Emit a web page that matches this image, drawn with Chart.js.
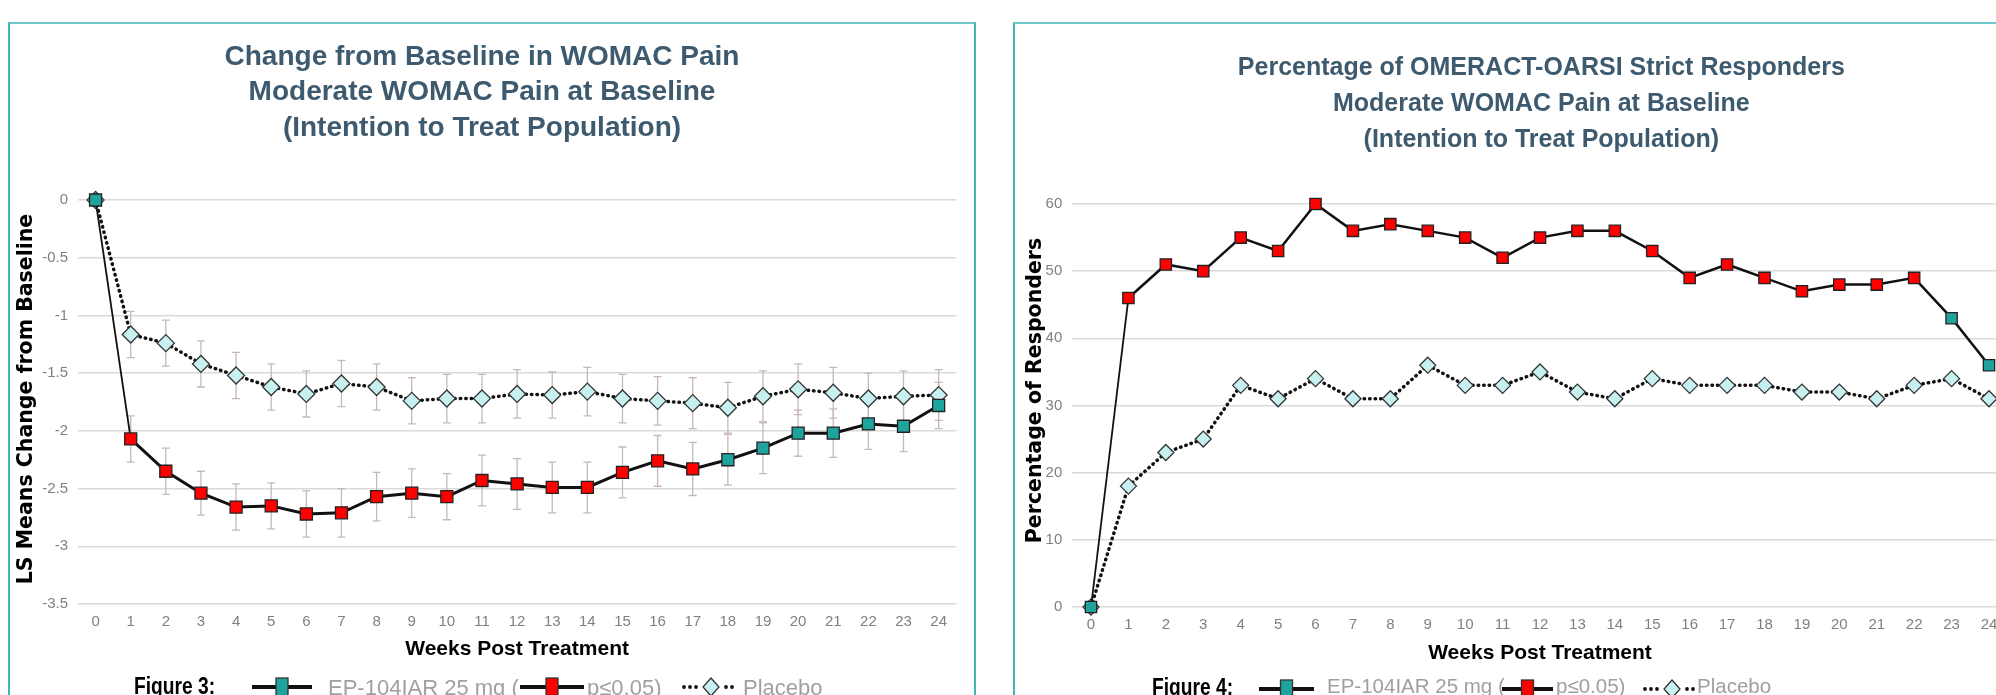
<!DOCTYPE html>
<html>
<head>
<meta charset="utf-8">
<script src="https://cdn.jsdelivr.net/npm/chart.js@4.4.0/dist/chart.umd.min.js"></script>
<style>
html, body { margin: 0; padding: 0; background: #fff; }
#page { position: relative; width: 1996px; height: 695px; overflow: hidden; background: #fff; }
.panel { position: absolute; top: 22px; height: 700px; box-sizing: border-box;
  border-top: 2px solid #6cc7c6; border-left: 2px solid #3fb6b3; }
#panelL { left: 8px; width: 968px; border-right: 2px solid #3fb6b3; }
#panelR { left: 1013px; width: 1000px; }
canvas { position: absolute; top: 24px; }
#chartL { left: 0; }
#chartR { left: 1015px; }
.lg { position: absolute; white-space: nowrap; color: #a0a0a0;
  font-family: 'Liberation Sans', Arial, sans-serif; }
.fig { font-weight: bold; color: #000; font-size: 24px; line-height: 24px;
  transform: scaleX(0.8); transform-origin: 0 0; }
.ic { position: absolute; }
</style>
</head>
<body>
<div id="page">
  <div class="panel" id="panelL"></div>
  <div class="panel" id="panelR"></div>
  <canvas id="chartL" width="966" height="671"></canvas>
  <canvas id="chartR" width="1052" height="671"></canvas>
  <div id="legends"></div>
</div>
<script>
// ---- data ----
var weeks = ['0','1','2','3','4','5','6','7','8','9','10','11','12','13','14','15','16','17','18','19','20','21','22','23','24'];

// Figure 3: change from baseline in WOMAC pain
var painEp = [0, -2.07, -2.35, -2.54, -2.66, -2.65, -2.72, -2.71, -2.57, -2.54, -2.57, -2.43, -2.46,
  -2.49, -2.49, -2.36, -2.26, -2.33, -2.25, -2.15, -2.02, -2.02, -1.94, -1.96, -1.78];
var painEpErr = [0, 0.2, 0.2, 0.19, 0.2, 0.2, 0.2, 0.21, 0.21, 0.21, 0.2, 0.22, 0.22,
  0.22, 0.22, 0.22, 0.22, 0.23, 0.22, 0.22, 0.2, 0.21, 0.22, 0.22, 0.2];
var painPlacebo = [0, -1.165, -1.24, -1.42, -1.52, -1.62, -1.68, -1.59, -1.62, -1.74, -1.72, -1.72, -1.68,
  -1.69, -1.66, -1.72, -1.74, -1.76, -1.80, -1.70, -1.64, -1.67, -1.72, -1.70, -1.69];
var painPlaceboErr = [0, 0.2, 0.2, 0.2, 0.2, 0.2, 0.2, 0.2, 0.2, 0.2, 0.21, 0.21, 0.21,
  0.2, 0.21, 0.21, 0.21, 0.22, 0.22, 0.22, 0.22, 0.22, 0.22, 0.22, 0.22];
var painSig = [0, 1, 1, 1, 1, 1, 1, 1, 1, 1, 1, 1, 1, 1, 1, 1, 1, 1, 0, 0, 0, 0, 0, 0, 0];

// Figure 4: percentage of OMERACT-OARSI strict responders
var respEp = [0, 46, 51, 50, 55, 53, 60, 56, 57, 56, 55, 52, 55, 56, 56, 53, 49, 51, 49, 47, 48, 48, 49, 43, 36];
var respPlacebo = [0, 18, 23, 25, 33, 31, 34, 31, 31, 36, 33, 33, 35, 32, 31, 34, 33, 33, 33, 32, 32, 31, 33, 34, 31];
var respSig = [0, 1, 1, 1, 1, 1, 1, 1, 1, 1, 1, 1, 1, 1, 1, 1, 1, 1, 1, 1, 1, 1, 1, 0, 0];

var TEAL = '#1fa39d', RED = '#ff0000', ICE = '#c6f1f0';
var SANS = "'Liberation Sans', Arial, sans-serif";
var WIDE = "'DejaVu Sans', Verdana, sans-serif";

// error bars, drawn under the lines
var errorBars = {
  id: 'errorBars',
  beforeDatasetsDraw: function (chart) {
    var ctx = chart.ctx, y = chart.scales.y;
    chart.data.datasets.forEach(function (ds, i) {
      if (!ds.errorBars) return;
      var meta = chart.getDatasetMeta(i);
      ctx.save();
      ctx.strokeStyle = '#c7b7bb';
      ctx.lineWidth = 1.3;
      meta.data.forEach(function (pt, j) {
        var e = ds.errorBars[j];
        if (!e) return;
        var top = y.getPixelForValue(ds.data[j] + e), bot = y.getPixelForValue(ds.data[j] - e);
        ctx.beginPath();
        ctx.moveTo(pt.x, top); ctx.lineTo(pt.x, bot);
        ctx.moveTo(pt.x - 4, top); ctx.lineTo(pt.x + 4, top);
        ctx.moveTo(pt.x - 4, bot); ctx.lineTo(pt.x + 4, bot);
        ctx.stroke();
      });
      ctx.restore();
    });
  }
};

// nudge the chart title / y axis title a few pixels
var nudge = {
  id: 'nudge',
  beforeDraw: function (chart, args, opts) {
    function wrap(obj, name, dx, dy) {
      if (!obj || obj['_n' + name] || (!dx && !dy)) return;
      var orig = obj[name];
      obj[name] = function () {
        this.ctx.save();
        this.ctx.translate(dx, dy);
        orig.apply(this, arguments);
        this.ctx.restore();
      };
      obj['_n' + name] = true;
    }
    wrap(chart.titleBlock, 'draw', opts.titleDx || 0, 0);
    wrap(chart.scales.y, 'drawTitle', 0, opts.yTitleDy || 0);
  }
};

function makeChart(id, o) {
  return new Chart(document.getElementById(id), {
    type: 'line',
    data: {
      labels: weeks,
      datasets: [{
        label: 'EP-104IAR 25 mg',
        data: o.ep,
        errorBars: o.epErr,
        borderColor: '#111',
        borderWidth: o.lineW,
        segment: { borderWidth: function (c) { return c.p0DataIndex === 0 ? 1.8 : o.lineW; } },
        tension: 0,
        clip: false,
        pointStyle: 'rect',
        pointRadius: o.sq,
        pointBackgroundColor: o.sig.map(function (s) { return s ? RED : TEAL; }),
        pointBorderColor: '#222',
        pointBorderWidth: 1.3
      }, {
        label: 'Placebo',
        data: o.pl,
        errorBars: o.plErr,
        borderColor: '#111',
        borderWidth: 3.5,
        borderDash: [0.5, 5],
        borderCapStyle: 'round',
        tension: 0,
        clip: false,
        pointStyle: 'rectRot',
        pointRadius: o.dia,
        pointBackgroundColor: ICE,
        pointBorderColor: '#333',
        pointBorderWidth: 1.3
      }]
    },
    options: {
      responsive: false,
      animation: false,
      layout: { padding: { left: 0, right: o.padR, top: 0, bottom: o.padB } },
      plugins: {
        legend: { display: false },
        tooltip: { enabled: false },
        title: {
          display: true,
          text: o.title,
          color: '#3d5a6e',
          font: { family: SANS, size: o.titleSize, weight: 'bold', lineHeight: o.titleLH },
          padding: { top: o.titleT, bottom: o.titleB }
        },
        nudge: { titleDx: o.titleDx, yTitleDy: o.yTitleDy }
      },
      scales: {
        x: {
          offset: true,
          grid: { display: false, drawTicks: false },
          border: { display: false },
          ticks: { color: '#808080', padding: 8.4, maxRotation: 0, autoSkip: false,
            font: { family: SANS, size: 15 } },
          title: { display: true, text: 'Weeks Post Treatment', color: '#000',
            font: { family: SANS, size: 21, weight: 'bold' }, padding: { top: 0, bottom: o.xTitleB } },
          afterFit: function (s) { s.height = 60; }
        },
        y: {
          min: o.min, max: o.max,
          grid: { color: '#dadada', lineWidth: 1.5, drawTicks: false },
          border: { display: false },
          ticks: { stepSize: o.step, color: '#808080', padding: 10,
            font: { family: SANS, size: 15 },
            callback: function (v) { return String(v); } },
          title: { display: true, text: o.yTitle, color: '#000',
            font: { family: WIDE, size: 20.5, weight: 'bold' }, padding: { top: o.yTitleT, bottom: 0 } },
          afterFit: function (s) { s.width = o.yW; }
        }
      }
    },
    plugins: [errorBars, nudge]
  });
}

makeChart('chartL', {
  ep: painEp, epErr: painEpErr, pl: painPlacebo, plErr: painPlaceboErr, sig: painSig,
  title: ['Change from Baseline in WOMAC Pain', 'Moderate WOMAC Pain at Baseline', '(Intention to Treat Population)'],
  titleSize: 28, titleLH: 1.268, titleT: 15.2, titleB: 54.3, titleDx: 0,
  yTitle: 'LS Means Change from Baseline', yTitleT: 14.4, yTitleDy: -3, yW: 78,
  min: -3.5, max: 0, step: 0.5,
  lineW: 3, sq: 8.5, dia: 8.5,
  padR: 2, padB: 31, xTitleB: 2.4
});

makeChart('chartR', {
  ep: respEp, epErr: null, pl: respPlacebo, plErr: null, sig: respSig,
  title: ['Percentage of OMERACT-OARSI Strict Responders', 'Moderate WOMAC Pain at Baseline', '(Intention to Treat Population)'],
  titleSize: 25, titleLH: 1.44, titleT: 26.3, titleB: 45.7, titleDx: 30,
  yTitle: 'Percentage of Responders', yTitleT: 8.7, yTitleDy: -15, yW: 57.3,
  min: 0, max: 60, step: 10,
  lineW: 2.5, sq: 8, dia: 8,
  padR: 59.3, padB: 28, xTitleB: 1.4
});

// ---- legends (figure labels under each chart) ----
function lineIcon(color, w) {
  return '<svg width="' + w + '" height="24"><line x1="0" y1="12" x2="' + w + '" y2="12" stroke="#111" stroke-width="4"/>' +
    '<rect x="' + (w / 2 - 6) + '" y="3" width="12" height="20" fill="' + color + '" stroke="#333" stroke-width="1.3"/></svg>';
}
function dotIcon(w) {
  var c = 30, s = '<svg width="' + w + '" height="24">';
  [3, 9, 15, 45, 51].forEach(function (x) {
    s += '<circle cx="' + x + '" cy="12" r="1.9" fill="#111"/>';
  });
  s += '<polygon points="' + c + ',3 ' + (c + 8) + ',12 ' + c + ',21 ' + (c - 8) + ',12" fill="' + ICE + '" stroke="#333" stroke-width="1.3"/></svg>';
  return s;
}
function addLegend(fig, pos, size, lineTop, textTop, figTop) {
  var t = 'font-size:' + size + 'px;line-height:' + size + 'px;top:' + textTop + 'px;left:';
  var html = '';
  html += '<div class="lg fig" style="left:' + pos[0] + 'px;top:' + figTop + 'px">' + fig + '</div>';
  html += '<div class="ic" style="left:' + pos[1] + 'px;top:' + lineTop + 'px">' + lineIcon(TEAL, pos[2]) + '</div>';
  html += '<div class="lg" style="' + t + pos[3] + 'px">EP-104IAR 25 mg (</div>';
  html += '<div class="ic" style="left:' + pos[4] + 'px;top:' + lineTop + 'px">' + lineIcon(RED, pos[5]) + '</div>';
  html += '<div class="lg" style="' + t + pos[6] + 'px">p\u22640.05)</div>';
  html += '<div class="ic" style="left:' + pos[7] + 'px;top:' + lineTop + 'px">' + dotIcon(pos[8]) + '</div>';
  html += '<div class="lg" style="' + t + pos[9] + 'px">Placebo</div>';
  document.getElementById('legends').insertAdjacentHTML('beforeend', html);
}
addLegend('Figure 3:', [134, 252, 60, 328, 520, 64, 587, 681, 58, 743], 22, 675, 677, 674);
addLegend('Figure 4:', [1152, 1259, 55, 1327, 1502, 51, 1556, 1642, 55, 1697], 20.5, 677, 676, 675);
</script>
</body>
</html>
